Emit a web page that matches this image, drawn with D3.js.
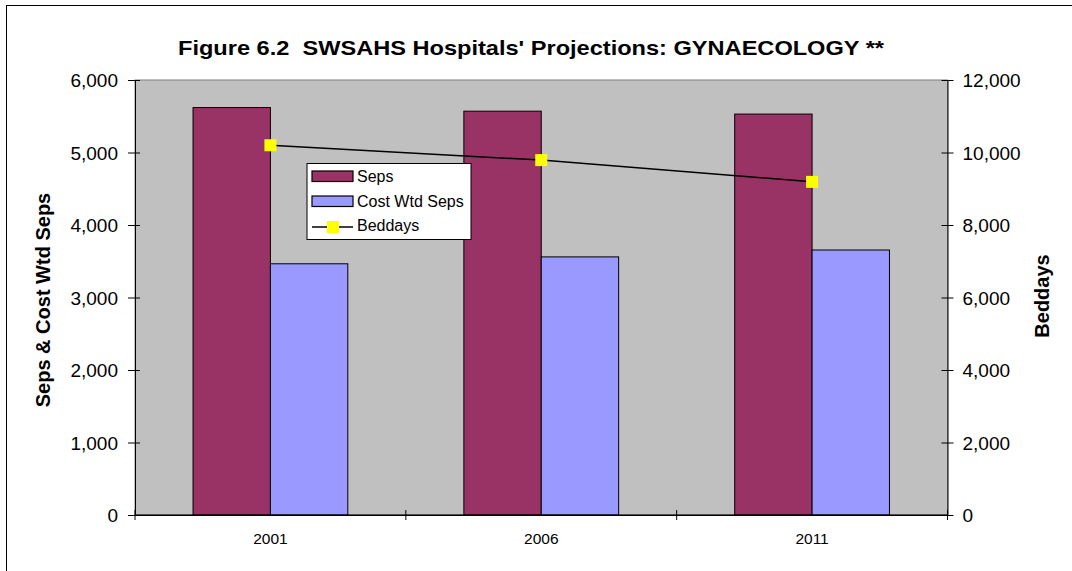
<!DOCTYPE html>
<html><head><meta charset="utf-8">
<script src="https://cdn.jsdelivr.net/npm/d3@7"></script>
<style>body{margin:0;background:#fff;} svg{display:block;font-family:"Liberation Sans",Arial,sans-serif;} text{white-space:pre;}</style>
</head><body>
<svg id="c" width="1072" height="571"></svg>
<script>
const categories = ["2001", "2006", "2011"];
const seps = [5620, 5570, 5530];
const costWtdSeps = [3465, 3560, 3655];
const beddays = [10200, 9790, 9190];
const leftTicks = [0, 1000, 2000, 3000, 4000, 5000, 6000];
const rightTicks = [0, 2000, 4000, 6000, 8000, 10000, 12000];
const seriesNames = ["Seps", "Cost Wtd Seps", "Beddays"];
const titleText = "Figure 6.2  SWSAHS Hospitals' Projections: GYNAECOLOGY **";

const svg = d3.select("#c");
const L = 135, R = 947.5, T = 80, B = 515;
const fmt = d3.format(",");

// outer border
svg.append("rect").attr("x", 6.5).attr("y", 5.5).attr("width", 1080).attr("height", 600)
  .attr("fill", "none").attr("stroke", "#000").attr("stroke-width", 1);

// plot area
svg.append("rect").attr("x", L).attr("y", T).attr("width", R - L).attr("height", B - T)
  .attr("fill", "#c0c0c0").attr("stroke", "#808080").attr("stroke-width", 1);

const x = d3.scaleBand().domain(categories).range([L, R]).paddingInner(0).paddingOuter(0);
const yL = d3.scaleLinear().domain([0, 6000]).range([B, T]);
const yR = d3.scaleLinear().domain([0, 12000]).range([B, T]);
const bw = x.bandwidth() * 2 / 7; // gap width 150%

const g = svg.append("g");
categories.forEach((c, i) => {
  const cx = x(c) + x.bandwidth() / 2;
  g.append("rect").attr("x", cx - bw).attr("y", yL(seps[i])).attr("width", bw)
    .attr("height", B - yL(seps[i])).attr("fill", "#993366").attr("stroke", "#000").attr("stroke-width", 1);
  g.append("rect").attr("x", cx).attr("y", yL(costWtdSeps[i])).attr("width", bw)
    .attr("height", B - yL(costWtdSeps[i])).attr("fill", "#9999ff").attr("stroke", "#000").attr("stroke-width", 1);
});

// line
const lineGen = d3.line().x((d, i) => x(categories[i]) + x.bandwidth() / 2).y(d => yR(d));
svg.append("path").datum(beddays).attr("d", lineGen).attr("fill", "none").attr("stroke", "#000").attr("stroke-width", 1.5);
beddays.forEach((v, i) => {
  const cx = x(categories[i]) + x.bandwidth() / 2;
  svg.append("rect").attr("x", cx - 6).attr("y", yR(v) - 6).attr("width", 12).attr("height", 12).attr("fill", "#ffff00");
});

// axes
const axL = svg.append("g").attr("transform", `translate(${L},0)`)
  .call(d3.axisLeft(yL).tickValues(leftTicks).tickFormat(fmt).tickSizeOuter(0));
const axR = svg.append("g").attr("transform", `translate(${R},0)`)
  .call(d3.axisRight(yR).tickValues(rightTicks).tickFormat(fmt).tickSizeOuter(0));
axL.selectAll(".tick line").attr("x1", -7).attr("x2", 5);
axR.selectAll(".tick line").attr("x1", -6).attr("x2", 6);
[axL, axR].forEach(a => {
  a.select(".domain").attr("stroke", "#000");
  a.selectAll(".tick line").attr("stroke", "#000");
  a.selectAll("text").attr("font-size", 19).attr("fill", "#000").attr("font-family", "Liberation Sans, Arial, sans-serif");
});
axL.selectAll(".tick text").attr("x", -17).attr("dy", "0.36em");
axR.selectAll(".tick text").attr("x", 15).attr("dy", "0.36em");

// x axis
const axX = svg.append("g").attr("transform", `translate(0,${B})`)
  .call(d3.axisBottom(x).tickSize(0).tickPadding(14));
axX.select(".domain").attr("stroke", "#000");
axX.selectAll("text").attr("font-size", 15.5).attr("fill", "#000").attr("y", 29).attr("dy", 0)
  .attr("font-family", "Liberation Sans, Arial, sans-serif");
// category separator ticks
const sep = [L, ...categories.map(c => x(c) + x.bandwidth()).slice(0, -1), R];
svg.append("g").selectAll("line").data(sep).join("line")
  .attr("x1", d => d).attr("x2", d => d).attr("y1", B - 5).attr("y2", B + 5).attr("stroke", "#000");
svg.append("line").attr("x1", L).attr("x2", R).attr("y1", B).attr("y2", B).attr("stroke", "#000");

// title
svg.append("text").attr("x", 178).attr("y", 55).attr("textLength", 706).attr("lengthAdjust", "spacingAndGlyphs")
  .attr("font-size", 21).attr("font-weight", "bold").text(titleText);

// axis titles
svg.append("text").attr("transform", "translate(50,300) rotate(-90)").attr("text-anchor", "middle")
  .attr("font-size", 20).attr("font-weight", "bold").text("Seps & Cost Wtd Seps");
svg.append("text").attr("transform", "translate(1049,296) rotate(-90)").attr("text-anchor", "middle")
  .attr("font-size", 20).attr("font-weight", "bold").text("Beddays");

// legend
const lg = svg.append("g").attr("transform", "translate(307,163.5)");
lg.append("rect").attr("width", 164).attr("height", 76).attr("fill", "#fff").attr("stroke", "#000").attr("stroke-width", 1);
const colors = ["#993366", "#9999ff"];
[0, 1].forEach(i => {
  lg.append("rect").attr("x", 5).attr("y", 7.5 + i * 25).attr("width", 41).attr("height", 10.5)
    .attr("fill", colors[i]).attr("stroke", "#000").attr("stroke-width", 1.2);
});
lg.append("line").attr("x1", 5).attr("x2", 46).attr("y1", 63.5).attr("y2", 63.5).attr("stroke", "#000").attr("stroke-width", 1.5);
lg.append("rect").attr("x", 20).attr("y", 57.5).attr("width", 12).attr("height", 12).attr("fill", "#ffff00");
seriesNames.forEach((n, i) => {
  lg.append("text").attr("x", 50).attr("y", 18.5 + i * 24.5).attr("font-size", 16).text(n);
});
</script>
</body></html>
